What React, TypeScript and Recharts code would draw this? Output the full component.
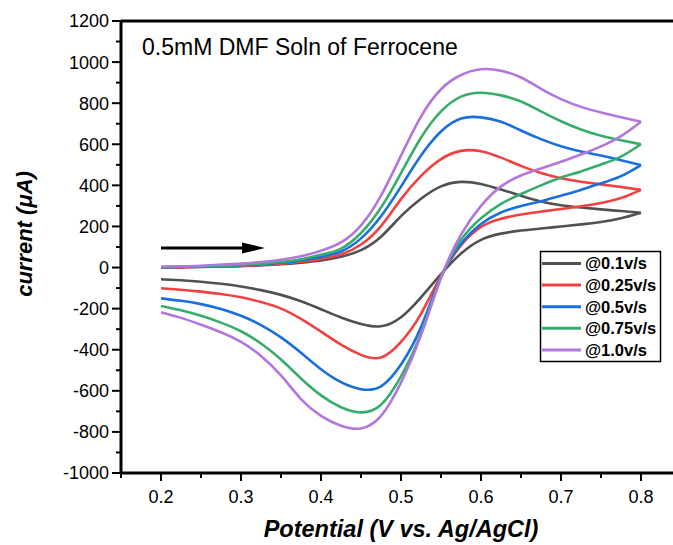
import React from 'react'
import { LineChart, Line, XAxis, YAxis, ReferenceLine } from 'recharts'

// Potential grid (V vs. Ag/AgCl) for the anodic (forward) and cathodic (reverse) sweeps
const forwardV = [
  0.2, 0.225, 0.25, 0.275, 0.3, 0.325, 0.35, 0.375, 0.4, 0.425, 0.45, 0.475, 0.5,
  0.525, 0.55, 0.575, 0.6, 0.625, 0.65, 0.675, 0.7, 0.725, 0.75, 0.775, 0.8,
]
const reverseV = [
  0.8, 0.775, 0.75, 0.725, 0.7, 0.675, 0.65, 0.625, 0.6, 0.575, 0.55, 0.525, 0.5,
  0.475, 0.45, 0.425, 0.4, 0.375, 0.35, 0.325, 0.3, 0.275, 0.25, 0.225, 0.2,
]

// current (µA)
const fwd01 = [0, 1, 3, 5, 7, 11, 16, 24, 35, 53, 85, 150, 250, 335, 395, 417, 407, 380, 350, 322, 303, 292, 283, 275, 267]
const rev01 = [267, 240, 222, 210, 200, 190, 180, 165, 135, 68, -32, -145, -242, -286, -275, -243, -203, -164, -133, -110, -92, -79, -69, -62, -57]

const fwd025 = [0, 1, 4, 6, 9, 13, 19, 28, 42, 63, 112, 202, 333, 446, 528, 568, 566, 535, 495, 460, 435, 418, 405, 392, 378]
const rev025 = [378, 338, 314, 298, 285, 272, 258, 238, 198, 108, -40, -225, -362, -438, -425, -375, -312, -250, -200, -168, -145, -129, -117, -108, -101]

const fwd05 = [1, 3, 5, 8, 11, 16, 23, 34, 52, 78, 142, 250, 394, 545, 662, 725, 731, 710, 667, 625, 590, 565, 545, 522, 499]
const rev05 = [499, 445, 410, 378, 350, 323, 300, 268, 212, 115, -45, -290, -472, -578, -592, -558, -495, -415, -340, -280, -235, -202, -178, -162, -150]

const fwd075 = [2, 4, 6, 9, 13, 19, 27, 40, 62, 92, 168, 292, 460, 632, 760, 832, 851, 838, 808, 760, 712, 672, 642, 620, 600]
const rev075 = [600, 540, 502, 468, 438, 400, 358, 310, 240, 135, -48, -320, -530, -668, -705, -680, -622, -540, -448, -370, -310, -268, -235, -208, -187]

const fwd10 = [4, 6, 9, 14, 19, 27, 38, 55, 82, 122, 205, 350, 545, 735, 868, 937, 965, 958, 925, 870, 820, 782, 755, 732, 710]
const rev10 = [710, 640, 590, 550, 515, 482, 448, 395, 300, 160, -50, -330, -560, -722, -783, -770, -722, -640, -525, -430, -362, -315, -278, -245, -218]

const scanRates = ['@0.1v/s', '@0.25v/s', '@0.5v/s', '@0.75v/s', '@1.0v/s']
const colors = ['#515151', '#F14040', '#1A6FDF', '#37AD6B', '#B177DE']
const forwardScans = [fwd01, fwd025, fwd05, fwd075, fwd10]
const reverseScans = [rev01, rev025, rev05, rev075, rev10]

const yTicks = [-1000, -900, -800, -700, -600, -500, -400, -300, -200, -100, 0, 100, 200, 300, 400, 500, 600, 700, 800, 900, 1000, 1100, 1200]
const xTicks = [0.15, 0.2, 0.25, 0.3, 0.35, 0.4, 0.45, 0.5, 0.55, 0.6, 0.65, 0.7, 0.75, 0.8]

const FONT = '"Liberation Sans", Arial, sans-serif'

const series = scanRates.map((name, k) => ({
  name,
  color: colors[k],
  forward: forwardV.map((v, i) => ({ v, cur: forwardScans[k][i] })),
  reverse: reverseV.map((v, i) => ({ v, cur: reverseScans[k][i] })),
}))

const YTick = (props: any) => {
  const { x, y, payload } = props
  const major = payload.value % 200 === 0
  return (
    <g>
      <line x1={x - (major ? 9 : 5)} x2={x} y1={y} y2={y} stroke="#000" strokeWidth={2} />
      {major && (
        <text x={x - 12} y={y} dy="0.36em" textAnchor="end" fontSize={18} fontFamily={FONT} fill="#000">
          {payload.value}
        </text>
      )}
    </g>
  )
}

const XTick = (props: any) => {
  const { x, y, payload } = props
  const major = Math.round(payload.value * 100) % 10 === 0
  return (
    <g>
      <line x1={x} x2={x} y1={y} y2={y + (major ? 8 : 5)} stroke="#000" strokeWidth={2} />
      {major && (
        <text x={x} y={y + 30} textAnchor="middle" fontSize={18} fontFamily={FONT} fill="#000">
          {payload.value.toFixed(1)}
        </text>
      )}
    </g>
  )
}

export default function App() {
  return (
    <div
      style={{
        position: 'absolute',
        left: 0,
        top: 0,
        width: 673,
        height: 545,
        overflow: 'hidden',
        background: '#fff',
        fontFamily: FONT,
      }}
    >
      <LineChart width={690} height={545} margin={{ top: 21, right: 9, bottom: 0, left: 0 }}>
        <XAxis
          type="number"
          dataKey="v"
          domain={[0.15, 0.85]}
          ticks={xTicks}
          interval={0}
          allowDataOverflow
          height={72}
          tickSize={0}
          tickMargin={0}
          tick={<XTick />}
          axisLine={{ stroke: '#000', strokeWidth: 3 }}
          tickLine={false}
        />
        <YAxis
          type="number"
          dataKey="cur"
          domain={[-1000, 1200]}
          ticks={yTicks}
          interval={0}
          allowDataOverflow
          width={121}
          tickSize={0}
          tickMargin={0}
          tick={<YTick />}
          axisLine={{ stroke: '#000', strokeWidth: 3 }}
          tickLine={false}
        />
        <ReferenceLine y={1200} stroke="#000" strokeWidth={3} />
        {series.map((s) => (
          <Line
            key={s.name + '-fwd'}
            data={s.forward}
            dataKey="cur"
            type="natural"
            stroke={s.color}
            strokeWidth={2.6}
            dot={false}
            activeDot={false}
            isAnimationActive={false}
          />
        ))}
        {series.map((s) => (
          <Line
            key={s.name + '-rev'}
            data={s.reverse}
            dataKey="cur"
            type="natural"
            stroke={s.color}
            strokeWidth={2.6}
            dot={false}
            activeDot={false}
            isAnimationActive={false}
          />
        ))}
      </LineChart>

      {/* annotations: title, sweep arrow, axis titles, legend */}
      <svg
        width={673}
        height={545}
        style={{ position: 'absolute', left: 0, top: 0, pointerEvents: 'none' }}
        fontFamily={FONT}
      >
        <text x={142} y={55} fontSize={23} fill="#000">
          0.5mM DMF Soln of Ferrocene
        </text>

        <line x1={161} y1={248} x2={245} y2={248} stroke="#000" strokeWidth={3} />
        <polygon points="242,242.5 265,248 242,253.5" fill="#000" />

        <text
          transform="translate(32,234) rotate(-90)"
          textAnchor="middle"
          fontSize={22}
          fontWeight="bold"
          fontStyle="italic"
          fill="#000"
        >
          current (μA)
        </text>
        <text x={401} y={537} textAnchor="middle" fontSize={23.5} fontWeight="bold" fontStyle="italic" fill="#000">
          Potential (V vs. Ag/AgCl)
        </text>

        <rect x={540.5} y={251.5} width={120} height={110} fill="#fff" stroke="#000" strokeWidth={1.5} />
        {series.map((s, i) => (
          <g key={s.name}>
            <line x1={542} x2={581} y1={263.5 + i * 21.6} y2={263.5 + i * 21.6} stroke={s.color} strokeWidth={3} />
            <text x={585} y={263.5 + i * 21.6} dy="0.36em" fontSize={16.5} fontWeight="bold" fill="#000">
              {s.name}
            </text>
          </g>
        ))}
      </svg>
    </div>
  )
}
